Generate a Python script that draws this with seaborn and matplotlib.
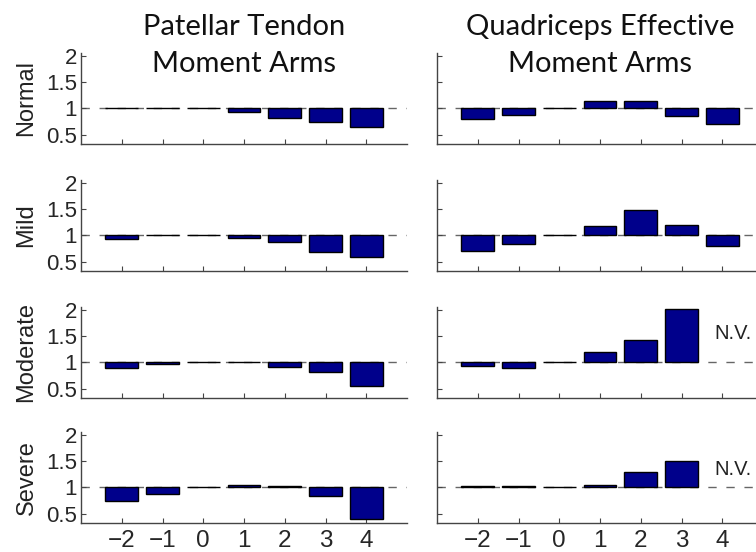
import numpy as np
import pandas as pd
import matplotlib
matplotlib.use("Agg")
import matplotlib.pyplot as plt
import seaborn as sns

sns.set_style("white")

positions = [-2, -1, 0, 1, 2, 3, 4]
rows = ["Normal", "Mild", "Moderate", "Severe"]
titles = [["Patellar Tendon", "Moment Arms"], ["Quadriceps Effective", "Moment Arms"]]

patellar_normal = [1.00, 1.01, 1.00, 0.94, 0.81, 0.75, 0.65]
patellar_mild = [0.94, 1.00, 1.00, 0.96, 0.87, 0.68, 0.58]
patellar_moderate = [0.90, 0.97, 1.00, 1.00, 0.92, 0.82, 0.54]
patellar_severe = [0.75, 0.88, 1.00, 1.05, 1.02, 0.83, 0.40]

quad_normal = [0.79, 0.88, 1.00, 1.15, 1.15, 0.85, 0.71]
quad_mild = [0.71, 0.84, 1.00, 1.18, 1.48, 1.20, 0.80]
quad_moderate = [0.94, 0.90, 1.00, 1.20, 1.42, 2.03, np.nan]
quad_severe = [1.03, 1.03, 1.00, 1.05, 1.30, 1.50, np.nan]

nv_label = "N.V."
nv_y = {2: 1.55, 3: 1.35}

data = [
    [patellar_normal, quad_normal],
    [patellar_mild, quad_mild],
    [patellar_moderate, quad_moderate],
    [patellar_severe, quad_severe],
]

W, H = 756, 552
fig = plt.figure(figsize=(W / 100, H / 100), dpi=100)

left_px = [81, 437]
width_px = 326
tops_px = [53, 180, 307, 432]
height_px = 91

bar_color = "#00008B"
spine_color = "#444444"
tick_font = "Liberation Sans"

for r in range(4):
    for c in range(2):
        ax = fig.add_axes([left_px[c] / W, 1 - (tops_px[r] + height_px) / H,
                           width_px / W, height_px / H])
        vals = np.array(data[r][c], dtype=float)
        df = pd.DataFrame({"pos": positions, "val": vals})
        df = df.dropna()
        df["h"] = df["val"] - 1.0
        ax.axhline(1.0, color="#666666", lw=1.0, ls=(0, (6, 7)), zorder=0)
        sns.barplot(data=df, x="pos", y="h", native_scale=True, ax=ax,
                    color=bar_color, saturation=1, errorbar=None,
                    bottom=1.0, edgecolor="black", linewidth=1.0, width=0.8,
                    zorder=2)
        ax.set_xlim(-3, 5)
        ax.set_ylim(0.32, 2.06)
        ax.set_xlabel("")
        ax.set_ylabel("")
        ax.set_xticks(positions)
        ax.set_yticks([0.5, 1, 1.5, 2])
        for s in ["top", "right"]:
            ax.spines[s].set_visible(False)
        for s in ["left", "bottom"]:
            ax.spines[s].set_color(spine_color)
            ax.spines[s].set_linewidth(1.0)
        ax.tick_params(direction="in", length=3.5, width=0.8, color=spine_color,
                       left=True, bottom=True, pad=3)
        ax.tick_params(axis="x", pad=5)
        if r == 3:
            ax.set_xticklabels([str(p).replace("-", "\u2212") for p in positions],
                               fontsize=17.5, family=tick_font)
        else:
            ax.set_xticklabels([])
        if c == 0:
            ax.set_yticklabels(["0.5", "1", "1.5", "2"], fontsize=16, family=tick_font)
            ax.set_ylabel(rows[r], fontsize=17, family=tick_font, color="#222222",
                          labelpad=6)
        else:
            ax.set_yticklabels([])
            if r in nv_y:
                ax.text(4.27, nv_y[r], nv_label, ha="center", va="center",
                        fontsize=14.5, family=tick_font, color="#222222")

for c in range(2):
    cx = (left_px[c] + width_px / 2) / W
    fig.text(cx, 1 - 35 / H, titles[c][0], ha="center", va="baseline",
             fontsize=21, family="Lato", color="#111111")
    fig.text(cx, 1 - 72 / H, titles[c][1], ha="center", va="baseline",
             fontsize=21, family="Lato", color="#111111")

fig.savefig("out.png", dpi=100)
